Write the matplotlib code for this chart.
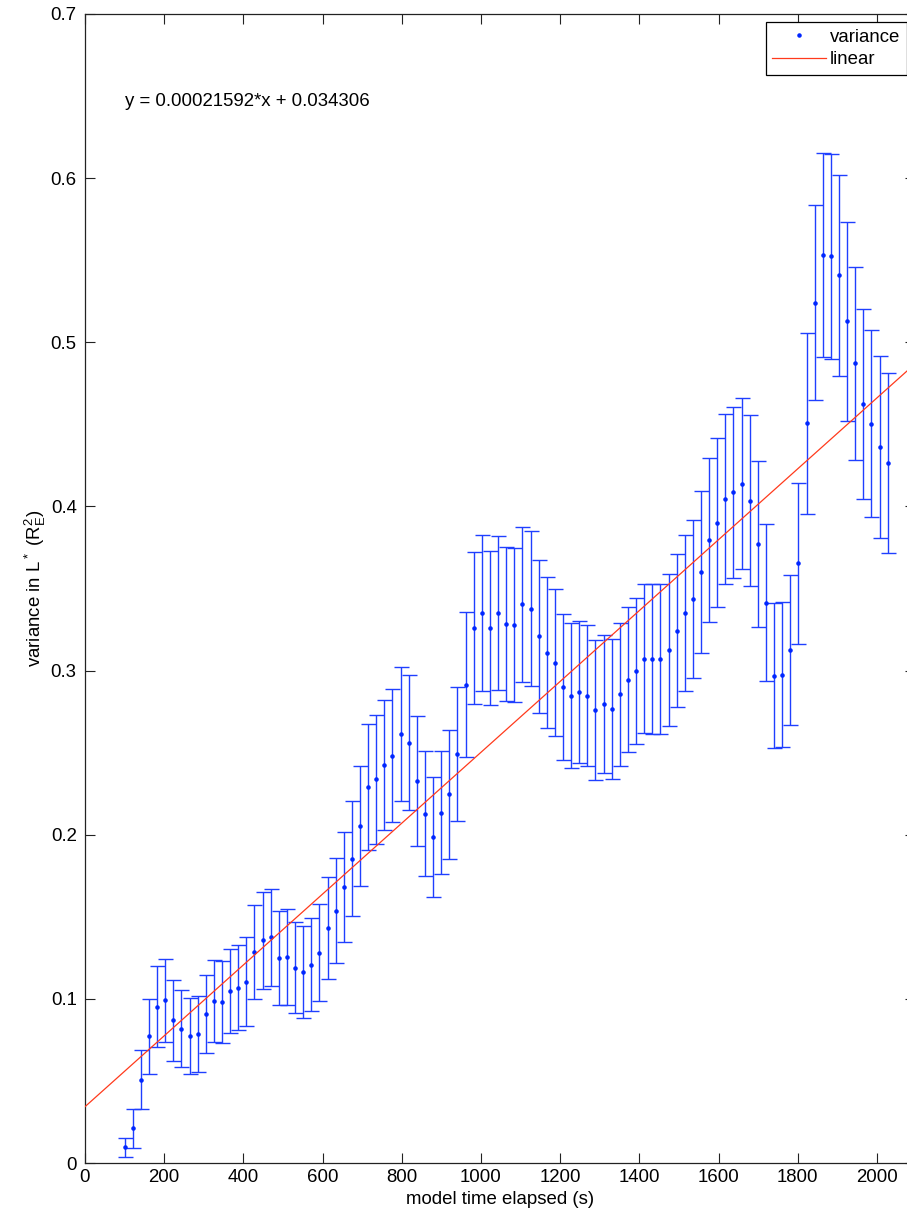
import matplotlib
matplotlib.use("Agg")
import matplotlib.pyplot as plt
from matplotlib.lines import Line2D

plt.rcParams['font.family'] = ['Liberation Sans', 'DejaVu Sans']
plt.rcParams['mathtext.default'] = 'regular'

# model time of each sample (s)
times = [100.0, 120.5, 141.0, 161.5, 182.0, 202.5, 223.0, 243.5, 264.0, 284.5,
         305.0, 325.5, 346.0, 366.5, 387.0, 407.5, 428.0, 448.5, 469.0, 489.5,
         510.0, 530.5, 551.0, 571.5, 592.0, 612.5, 633.0, 653.5, 674.0, 694.5,
         715.0, 735.5, 756.0, 776.5, 797.0, 817.5, 838.0, 858.5, 879.0, 899.5,
         920.0, 940.5, 961.0, 981.5, 1002.0, 1022.5, 1043.0, 1063.5, 1084.0, 1104.5,
         1125.0, 1145.5, 1166.0, 1186.5, 1207.0, 1227.5, 1248.0, 1268.5, 1289.0, 1309.5,
         1330.0, 1350.5, 1371.0, 1391.5, 1412.0, 1432.5, 1453.0, 1473.5, 1494.0, 1514.5,
         1535.0, 1555.5, 1576.0, 1596.5, 1617.0, 1637.5, 1658.0, 1678.5, 1699.0, 1719.5,
         1740.0, 1760.5, 1781.0, 1801.5, 1822.0, 1842.5, 1863.0, 1883.5, 1904.0, 1924.5,
         1945.0, 1965.5, 1986.0, 2006.5, 2027.0]

# variance in L* (R_E^2)
variance = [0.0096, 0.0211, 0.0508, 0.0772, 0.0953, 0.0991, 0.0869, 0.0819, 0.0776, 0.0784,
            0.0908, 0.0987, 0.0979, 0.1050, 0.1068, 0.1103, 0.1284, 0.1357, 0.1375, 0.1249,
            0.1255, 0.1190, 0.1162, 0.1207, 0.1282, 0.1430, 0.1536, 0.1684, 0.1853, 0.2052,
            0.2291, 0.2338, 0.2423, 0.2480, 0.2614, 0.2561, 0.2326, 0.2129, 0.1987, 0.2135,
            0.2245, 0.2492, 0.2915, 0.3260, 0.3350, 0.3260, 0.3350, 0.3283, 0.3276, 0.3404,
            0.3378, 0.3209, 0.3110, 0.3049, 0.2901, 0.2848, 0.2868, 0.2846, 0.2758, 0.2795,
            0.2767, 0.2856, 0.2945, 0.2996, 0.3073, 0.3069, 0.3069, 0.3128, 0.3242, 0.3352,
            0.3437, 0.3599, 0.3797, 0.3902, 0.4044, 0.4085, 0.4138, 0.4036, 0.3772, 0.3413,
            0.2968, 0.2976, 0.3126, 0.3654, 0.4507, 0.5241, 0.5533, 0.5525, 0.5407, 0.5127,
            0.4871, 0.4623, 0.4505, 0.4361, 0.4264]

# half-width of each error bar
errors = [0.0058, 0.0117, 0.0180, 0.0227, 0.0248, 0.0254, 0.0248, 0.0234, 0.0231, 0.0231,
          0.0239, 0.0249, 0.0250, 0.0255, 0.0260, 0.0271, 0.0285, 0.0297, 0.0297, 0.0289,
          0.0290, 0.0278, 0.0279, 0.0284, 0.0297, 0.0310, 0.0320, 0.0335, 0.0350, 0.0367,
          0.0384, 0.0393, 0.0397, 0.0405, 0.0408, 0.0410, 0.0397, 0.0378, 0.0366, 0.0377,
          0.0390, 0.0406, 0.0440, 0.0463, 0.0474, 0.0470, 0.0468, 0.0468, 0.0470, 0.0471,
          0.0470, 0.0467, 0.0460, 0.0450, 0.0444, 0.0440, 0.0433, 0.0430, 0.0427, 0.0422,
          0.0427, 0.0435, 0.0442, 0.0446, 0.0455, 0.0458, 0.0458, 0.0463, 0.0466, 0.0475,
          0.0482, 0.0492, 0.0500, 0.0512, 0.0518, 0.0520, 0.0520, 0.0518, 0.0506, 0.0477,
          0.0442, 0.0440, 0.0455, 0.0490, 0.0551, 0.0595, 0.0620, 0.0625, 0.0610, 0.0605,
          0.0590, 0.0577, 0.0567, 0.0556, 0.0548]

# least-squares fit coefficients
slope = 0.00021592
intercept = 0.034306

x_ticks = [0, 200, 400, 600, 800, 1000, 1200, 1400, 1600, 1800, 2000]
y_ticks = [0, 0.1, 0.2, 0.3, 0.4, 0.5, 0.6, 0.7]
y_tick_labels = ['0', '0.1', '0.2', '0.3', '0.4', '0.5', '0.6', '0.7']

FS = 13.4
W, H = 907, 1216
fig = plt.figure(figsize=(W / 100, H / 100), dpi=100)
left, right, top, bottom = 85, 915, 14, 1163
ax = fig.add_axes([left / W, 1 - bottom / H, (right - left) / W, (bottom - top) / H])

x_max = (right - left) / 0.396
ax.set_xlim(0, x_max)
ax.set_ylim(0, 0.7)

bar_blue = '#1f3fff'
ax.errorbar(times, variance, yerr=errors, fmt='none', ecolor=bar_blue,
            elinewidth=1.0, capsize=5.4, capthick=1.0, zorder=2)
ax.plot(times, variance, linestyle='none', marker='.', markersize=4.5,
        color='#0026ff', zorder=3)

fit_x = [0, x_max]
fit_y = [slope * v + intercept for v in fit_x]
ax.plot(fit_x, fit_y, color='#ff3a1c', linewidth=0.9, zorder=4)

ax.text(100, 0.6466, 'y = 0.00021592*x + 0.034306',
        ha='left', va='center', fontsize=FS)

ax.set_xticks(x_ticks)
ax.set_xticklabels([str(t) for t in x_ticks])
ax.set_yticks(y_ticks)
ax.set_yticklabels(y_tick_labels)
ax.tick_params(direction='in', length=7.5, width=0.8, top=True, right=True,
               labelsize=FS, colors='#222222', labelcolor='black')
ax.tick_params(axis='y', pad=6)
ax.tick_params(axis='x', pad=4)
for s in ax.spines.values():
    s.set_linewidth(0.9)
    s.set_color('#222222')

ax.set_xlabel('model time elapsed (s)', fontsize=FS, labelpad=4)
ax.set_ylabel(r'variance in L$^*$ (R$_E^2$)', fontsize=FS, labelpad=2)

handles = [Line2D([], [], linestyle='none', marker='.', markersize=4.5, color='#0026ff'),
           Line2D([], [], color='#ff3a1c', linewidth=0.9)]
leg = ax.legend(handles, ['variance', 'linear'], loc='upper right',
                bbox_to_anchor=(1 - 8 / (right - left), 1 - 8 / (bottom - top)),
                borderaxespad=0, fontsize=FS, frameon=True, fancybox=False,
                framealpha=1, edgecolor='black', handlelength=2.9,
                handletextpad=0.2, labelspacing=0.3, borderpad=0.35)
leg.get_frame().set_linewidth(0.9)

fig.savefig('out.png', dpi=100, facecolor='white')
